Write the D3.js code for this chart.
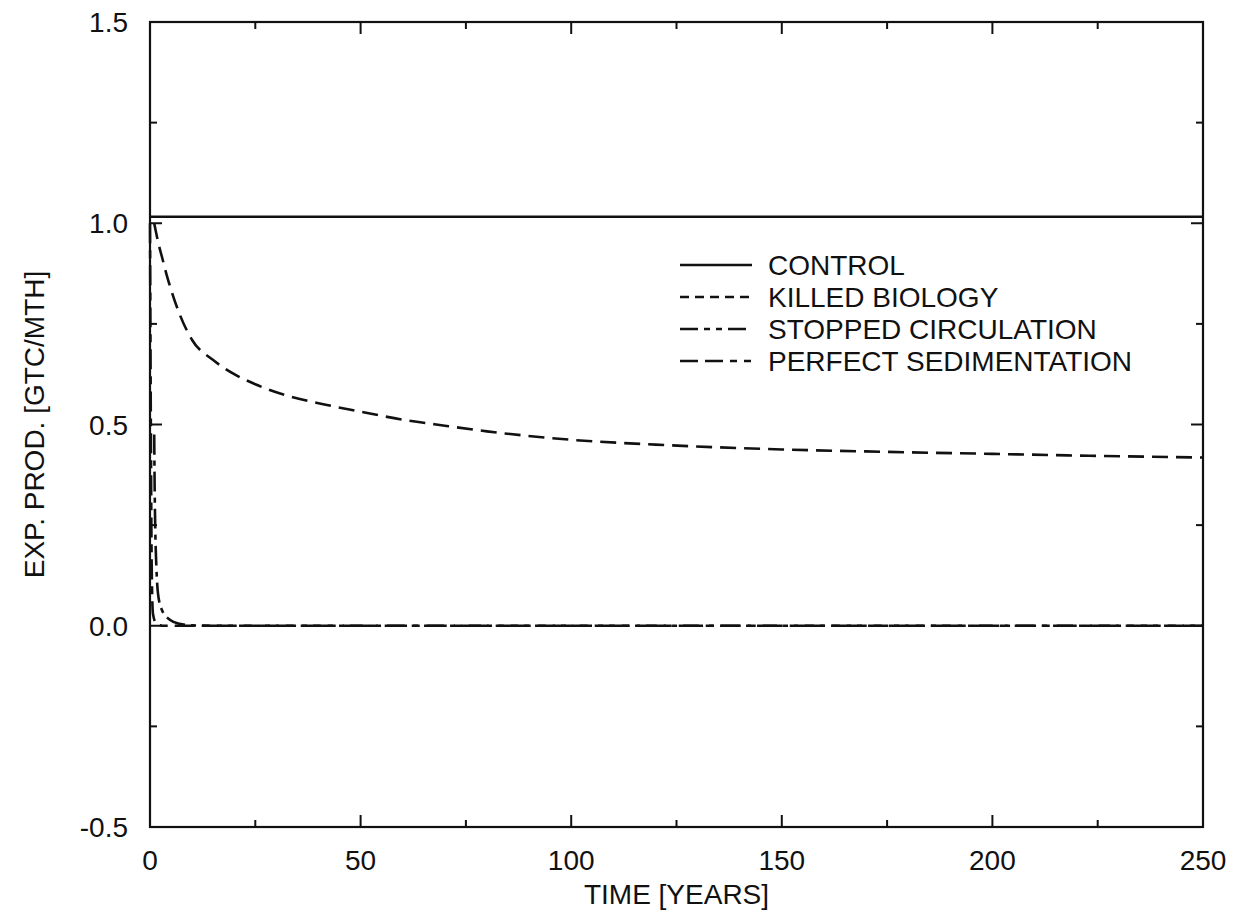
<!DOCTYPE html>
<html>
<head>
<meta charset="utf-8">
<script src="https://cdn.jsdelivr.net/npm/d3@7"></script>
<style>
  body { margin: 0; background: #fff; }
  text { font-family: "Liberation Sans", Arial, sans-serif; fill: #111; }
</style>
</head>
<body>
<div id="chart"></div>
<script>
// data (years, GtC/month)
var controlData = [[0, 1.016], [250, 1.016]];
var killedData = [[1, 1.0], [2, 0.95], [3, 0.91], [4, 0.87], [5, 0.835], [7, 0.775], [10, 0.71],
  [15, 0.66], [20, 0.625], [25, 0.6], [30, 0.58], [40, 0.553], [50, 0.532], [60, 0.512],
  [70, 0.497], [80, 0.483], [100, 0.462], [120, 0.45], [150, 0.438], [175, 0.432],
  [200, 0.427], [225, 0.422], [250, 0.418]];
var stoppedData = [[1, 0.475], [1.1, 0.35], [1.25, 0.24], [1.5, 0.15], [1.9, 0.08], [2.8, 0.04],
  [4.7, 0.015], [7, 0.005], [10, 0.001], [15, 0], [50, 0], [100, 0], [150, 0], [200, 0], [250, 0]];
var sedimentData = [[0, 1.0], [0.2, 0.5], [0.4, 0.15], [0.7, 0.03], [1.5, 0.005], [3, 0],
  [50, 0], [100, 0], [150, 0], [200, 0], [250, 0]];

var legendNames = ["CONTROL", "KILLED BIOLOGY", "STOPPED CIRCULATION", "PERFECT SEDIMENTATION"];
var xTicks = [0, 50, 100, 150, 200, 250];
var xMinor = [25, 75, 125, 175, 225];
var yTicks = [-0.5, 0.0, 0.5, 1.0, 1.5];
var yMinor = [-0.25, 0.25, 0.75, 1.25];

var W = 1242, H = 912;
var margin = { top: 22, left: 150, right: 39, bottom: 85 };

var svg = d3.select("#chart").append("svg")
    .attr("width", W)
    .attr("height", H);

var x = d3.scaleLinear().domain([0, 250]).range([margin.left, W - margin.right]);
var y = d3.scaleLinear().domain([-0.5, 1.5]).range([H - margin.bottom, margin.top]);

// ticks on all four sides, pointing in
function tickLines(g, vals, len, side) {
    g.selectAll(null).data(vals).enter().append("line")
        .attr("x1", d => side == "b" || side == "t" ? x(d) : (side == "l" ? x(0) : x(250)))
        .attr("x2", d => side == "b" || side == "t" ? x(d) : (side == "l" ? x(0) + len : x(250) - len))
        .attr("y1", d => side == "l" || side == "r" ? y(d) : (side == "b" ? y(-0.5) : y(1.5)))
        .attr("y2", d => side == "l" || side == "r" ? y(d) : (side == "b" ? y(-0.5) - len : y(1.5) + len))
        .attr("stroke", "#111")
        .attr("stroke-width", 2);
}
var tg = svg.append("g");
["b", "t"].forEach(s => { tickLines(tg, xTicks, 12, s); tickLines(tg, xMinor, 7, s); });
["l", "r"].forEach(s => { tickLines(tg, yTicks, 12, s); tickLines(tg, yMinor, 7, s); });

// frame
svg.append("rect")
    .attr("x", x(0)).attr("y", y(1.5))
    .attr("width", x(250) - x(0)).attr("height", y(-0.5) - y(1.5))
    .attr("fill", "none").attr("stroke", "#111").attr("stroke-width", 2.2);

// tick labels
svg.append("g").selectAll("text").data(xTicks).enter().append("text")
    .attr("x", d => x(d)).attr("y", y(-0.5) + 43)
    .attr("text-anchor", "middle").attr("font-size", 28)
    .text(d => d);
svg.append("g").selectAll("text").data(yTicks).enter().append("text")
    .attr("x", x(0) - 22).attr("y", d => y(d) + 10)
    .attr("text-anchor", "end").attr("font-size", 28)
    .text(d => d.toFixed(1));

// axis titles
svg.append("text")
    .attr("x", (x(0) + x(250)) / 2).attr("y", 904)
    .attr("text-anchor", "middle").attr("font-size", 28)
    .text("TIME [YEARS]");
svg.append("text")
    .attr("transform", "translate(44," + y(0.5) + ") rotate(-90)")
    .attr("text-anchor", "middle").attr("font-size", 28)
    .text("EXP. PROD. [GTC/MTH]");

var line = d3.line()
    .x(d => x(d[0]))
    .y(d => y(d[1]))
    .curve(d3.curveMonotoneX);

var series = [
    { data: controlData, dash: null, legDash: null },
    { data: killedData, dash: "16,8", legDash: "9,6" },
    { data: stoppedData, dash: "20,6,5,6", legDash: "18,6,6,6,6,6" },
    { data: sedimentData, dash: "20,7,8,7", legDash: "18,7,18,7,7,7,7" }
];

var plot = svg.append("g");
series.forEach(s => {
    plot.append("path")
        .datum(s.data)
        .attr("d", line)
        .attr("fill", "none")
        .attr("stroke", "#111")
        .attr("stroke-width", 2.6)
        .attr("stroke-dasharray", s.dash);
});

// legend
var legY = [275, 307, 339, 371];
var leg = svg.append("g");
series.forEach((s, i) => {
    leg.append("line")
        .attr("x1", 680).attr("x2", 752)
        .attr("y1", legY[i] - 10).attr("y2", legY[i] - 10)
        .attr("stroke", "#111").attr("stroke-width", 2.4)
        .attr("stroke-dasharray", s.legDash);
    leg.append("text")
        .attr("x", 768).attr("y", legY[i])
        .attr("font-size", 28)
        .text(legendNames[i]);
});
</script>
</body>
</html>
